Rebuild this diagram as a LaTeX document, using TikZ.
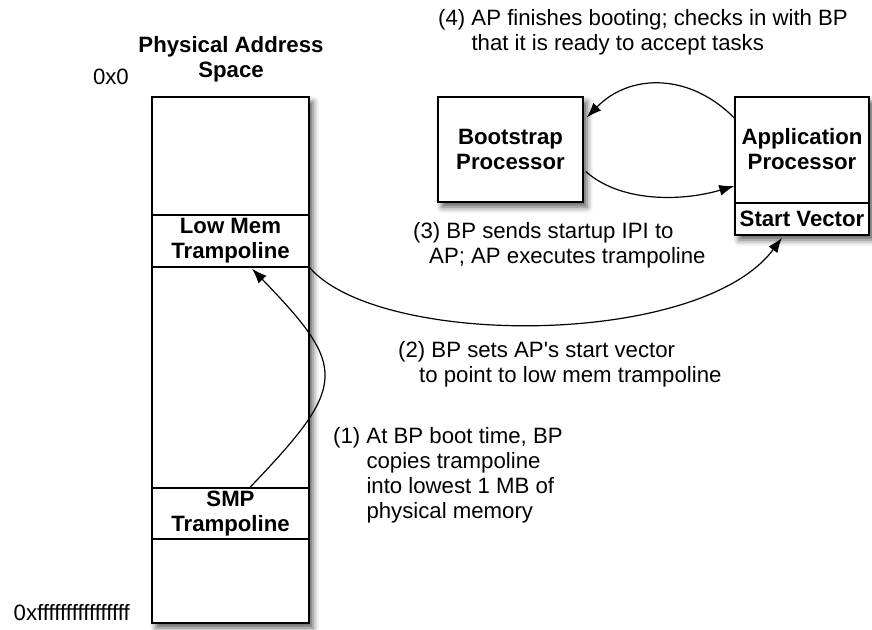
\documentclass[tikz,border=0pt]{standalone}
\usepackage{fontspec}
\setmainfont{Liberation Sans}
\usetikzlibrary{arrows.meta,shadows.blur}

\tikzset{
  txt/.style={font=\fontsize{22.2}{25}\selectfont, inner sep=0pt},
  boldtxt/.style={txt, font=\fontsize{22.2}{25}\selectfont\bfseries, align=center},
  blk/.style={draw=black, line width=1.4pt, fill=white, inner sep=0pt},
  shadowed/.style={blur shadow={shadow xshift=4pt, shadow yshift=-5pt,
      shadow blur radius=6pt, shadow opacity=65}},
  conn/.style={line width=1.2pt, -{Latex[length=15pt,width=11pt]}},
  note/.style={txt, align=left, anchor=west},
}

\begin{document}
\begin{tikzpicture}[x=1pt,y=-1pt]
  \useasboundingbox (0,0) rectangle (872,629);

  % memory column
  \node[blk, shadowed, minimum width=157pt, minimum height=526pt] (mem) at (230.5,360) {};
  \node[blk, boldtxt, minimum width=157pt, minimum height=52pt] (lowmem) at (230.5,241)
    {Low Mem\\Trampoline};
  \node[blk, boldtxt, minimum width=157pt, minimum height=51pt] (smp) at (230.5,513.5)
    {SMP\\Trampoline};

  \node[boldtxt] (title) at (231,59) {Physical Address\\Space};
  \node[txt, anchor=east] (top) at (129,77) {0x0};
  \node[txt, anchor=east] (bottom) at (130,613) {0xffffffffffffffff};

  % processors
  \node[blk, shadowed, boldtxt, minimum width=145pt, minimum height=105pt] (bp) at (510.5,149.5)
    {Bootstrap\\Processor};
  \node[blk, shadowed, minimum width=134pt, minimum height=138pt] (ap) at (802,166) {};
  \node[boldtxt] (aplabel) at (802,149) {Application\\Processor};
  \node[blk, boldtxt, minimum width=134pt, minimum height=32pt] (sv) at (802,219) {Start Vector};

  % step notes
  \node[note] (n4) at (438,32) {(4) AP finishes booting; checks in with BP\\\phantom{(4) }that it is ready to accept tasks};
  \node[note] (n3) at (413,245) {(3) BP sends startup IPI to\\\hspace*{16pt}AP; AP executes trampoline};
  \node[note] (n2) at (398,364) {(2) BP sets AP\textquotesingle s start vector\\\hspace*{21pt}to point to low mem trampoline};
  \node[note] (n1) at (333,475) {(1) At BP boot time, BP\\\phantom{(1) }copies trampoline\\\phantom{(1) }into lowest 1 MB of\\\phantom{(1) }physical memory};

  % connector end points
  \coordinate (smpout) at ([xshift=19.5pt]smp.north);
  \coordinate (lowin) at ([xshift=21.5pt,yshift=-1pt]lowmem.south);
  \coordinate (svin) at ([xshift=-20pt,yshift=-2pt]sv.south);
  \coordinate (bpout) at ([xshift=2pt,yshift=-22pt]bp.east);
  \coordinate (apin) at ([yshift=-20pt]ap.west);
  \coordinate (apout) at ([yshift=48pt]ap.west);
  \coordinate (bpin) at ([xshift=3pt,yshift=32pt]bp.east);

  \draw[conn] (smpout) .. controls (348,385) and (348,368) .. (lowin);
  \draw[conn] (lowmem.south east) .. controls (380,348) and (700,348) .. (svin);
  \draw[conn] (bpout) .. controls (620,202) and (680,202) .. (apin);
  \draw[conn] (apout) .. controls (690,73) and (630,73) .. (bpin);
\end{tikzpicture}
\end{document}
